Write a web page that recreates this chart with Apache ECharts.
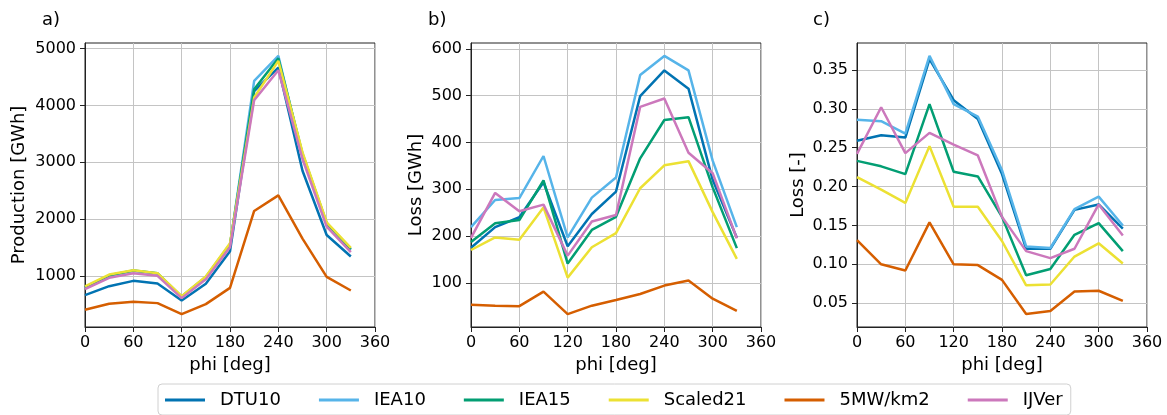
<!DOCTYPE html>
<html><head><meta charset="utf-8">
<script src="https://cdn.jsdelivr.net/npm/echarts@6/dist/echarts.min.js"></script>
<style>html,body{margin:0;padding:0;background:#fff}#c{width:1167px;height:415px}</style>
</head><body><div id="c"></div>
<script>
const phi = [0, 30, 60, 90, 120, 150, 180, 210, 240, 270, 300, 330];
const names = ['DTU10', 'IEA10', 'IEA15', 'Scaled21', '5MW/km2', 'IJVer'];
const colors = ['#0173b2', '#56b4e9', '#029e73', '#ece133', '#d55e00', '#cc78bc'];

// a) Production [GWh]
const prodDTU10   = [660, 818, 912, 865, 567, 860, 1433, 4250, 4666, 2850, 1720, 1340];
const prodIEA10   = [790, 1000, 1090, 1040, 630, 970, 1540, 4432, 4871, 3100, 1914, 1457];
const prodIEA15   = [800, 1010, 1094, 1045, 635, 980, 1555, 4285, 4830, 3150, 1930, 1470];
const prodScaled21= [813, 1023, 1100, 1047, 643, 988, 1574, 4139, 4783, 3173, 1943, 1492];
const prod5MW     = [403, 508, 543, 520, 327, 502, 789, 2142, 2417, 1656, 982, 742];
const prodIJVer   = [766, 965, 1047, 1000, 608, 941, 1504, 4092, 4620, 3056, 1867, 1416];

// b) Loss [GWh]
const lossDTU10   = [175, 219, 240, 315, 178, 247, 295, 499, 554, 515, 320, 196];
const lossIEA10   = [219, 277, 281, 371, 197, 282, 325, 544, 585, 554, 361, 219];
const lossIEA15   = [187, 227, 234, 319, 141, 213, 241, 366, 448, 454, 304, 174];
const lossScaled21= [170, 197, 192, 261, 111, 176, 206, 302, 351, 360, 251, 151];
const loss5MW     = [53, 51, 50, 81, 33, 51, 63, 76, 94, 105, 66, 40];
const lossIJVer   = [196, 292, 253, 267, 158, 231, 245, 476, 494, 378, 334, 195];

// c) Loss [-]
const relDTU10    = [0.259, 0.266, 0.263, 0.364, 0.311, 0.287, 0.216, 0.120, 0.120, 0.170, 0.177, 0.146];
const relIEA10    = [0.286, 0.284, 0.268, 0.368, 0.306, 0.290, 0.221, 0.123, 0.121, 0.171, 0.187, 0.150];
const relIEA15    = [0.233, 0.226, 0.216, 0.306, 0.219, 0.213, 0.161, 0.086, 0.094, 0.138, 0.153, 0.117];
const relScaled21 = [0.212, 0.196, 0.179, 0.252, 0.174, 0.174, 0.130, 0.073, 0.074, 0.110, 0.127, 0.101];
const rel5MW      = [0.131, 0.100, 0.092, 0.154, 0.100, 0.099, 0.080, 0.036, 0.040, 0.065, 0.066, 0.053];
const relIJVer    = [0.242, 0.302, 0.243, 0.269, 0.254, 0.240, 0.161, 0.117, 0.108, 0.120, 0.177, 0.137];

const xTicks = [0, 60, 120, 180, 240, 300, 360];
const aTicks = [1000, 2000, 3000, 4000, 5000];
const bTicks = [100, 200, 300, 400, 500, 600];
const cTicks = [0.05, 0.10, 0.15, 0.20, 0.25, 0.30, 0.35];
const panelTitles = ['a)', 'b)', 'c)'];
const yNames = ['Production [GWh]', 'Loss [GWh]', 'Loss [-]'];
const xName = 'phi [deg]';

const panels = [
  [prodDTU10, prodIEA10, prodIEA15, prodScaled21, prod5MW, prodIJVer],
  [lossDTU10, lossIEA10, lossIEA15, lossScaled21, loss5MW, lossIJVer],
  [relDTU10, relIEA10, relIEA15, relScaled21, rel5MW, relIJVer]
];
const yTicks = [aTicks, bTicks, cTicks];
const yFmt = [v => String(v), v => String(v), v => v.toFixed(2)];

const FONT = 'DejaVu Sans';
const gridLeft = [85, 471, 857];
const nameGaps = [57, 46, 50];
const titleLeft = [42, 428, 813];

function extent(arrs) {
  let lo = Infinity, hi = -Infinity;
  arrs.forEach(a => a.forEach(v => { lo = Math.min(lo, v); hi = Math.max(hi, v); }));
  const m = (hi - lo) * 0.05;
  return [lo - m, hi + m];
}

const grids = [], xAxes = [], yAxes = [], series = [], titles = [];
panels.forEach((arrs, p) => {
  grids.push({left: gridLeft[p], top: 43, width: 290, height: 284, show: true,
    borderColor: '#222', borderWidth: 1, backgroundColor: 'transparent'});
  xAxes.push({type: 'value', gridIndex: p, min: 0, max: 360,
    name: xName, nameLocation: 'middle', nameGap: 29,
    nameTextStyle: {fontFamily: FONT, fontSize: 18, color: '#000'},
    axisLine: {show: true, lineStyle: {color: '#222', width: 1}},
    axisTick: {show: true, length: 5, lineStyle: {color: '#222'}, customValues: xTicks},
    axisLabel: {fontFamily: FONT, fontSize: 16, color: '#000', margin: 8, customValues: xTicks, showMinLabel: true, showMaxLabel: true},
    splitLine: {show: true, lineStyle: {color: '#c4c4c4', width: 1}}
  });
  const ext = extent(arrs);
  yAxes.push({type: 'value', gridIndex: p, min: ext[0], max: ext[1],
    name: yNames[p], nameLocation: 'middle', nameGap: nameGaps[p],
    nameTextStyle: {fontFamily: FONT, fontSize: 18, color: '#000'},
    axisLine: {show: true, lineStyle: {color: '#222', width: 1}},
    axisTick: {show: true, length: 5, lineStyle: {color: '#222'}, customValues: yTicks[p]},
    axisLabel: {fontFamily: FONT, fontSize: 16, color: '#000', margin: 9, customValues: yTicks[p], formatter: yFmt[p]},
    splitLine: {show: true, lineStyle: {color: '#c4c4c4', width: 1}}
  });
  arrs.forEach((vals, i) => {
    series.push({type: 'line', name: names[i], xAxisIndex: p, yAxisIndex: p,
      data: phi.map((x, k) => [x, vals[k]]),
      symbol: 'none', showSymbol: false, animation: false,
      lineStyle: {color: colors[i], width: 2.5}, itemStyle: {color: colors[i]}});
  });
  titles.push({text: panelTitles[p], left: titleLeft[p], top: 11, padding: 0,
    textStyle: {fontFamily: FONT, fontSize: 18, fontWeight: 'normal', color: '#000'}});
});

const chart = echarts.init(document.getElementById('c'), null, {renderer: 'canvas'});
chart.setOption({
  animation: false,
  backgroundColor: '#fff',
  title: titles,
  grid: grids, xAxis: xAxes, yAxis: yAxes, series: series,
  legend: {data: names, left: 158, top: 384, orient: 'horizontal',
    icon: 'rect', itemWidth: 40, itemHeight: 3, itemGap: 38,
    padding: [7, 8, 6, 7], borderColor: '#d0d0d0', borderWidth: 1, borderRadius: 4,
    backgroundColor: '#fff',
    textStyle: {fontFamily: FONT, fontSize: 18, color: '#000', padding: [0, 0, 0, 10]}
  }
});
</script></body></html>
